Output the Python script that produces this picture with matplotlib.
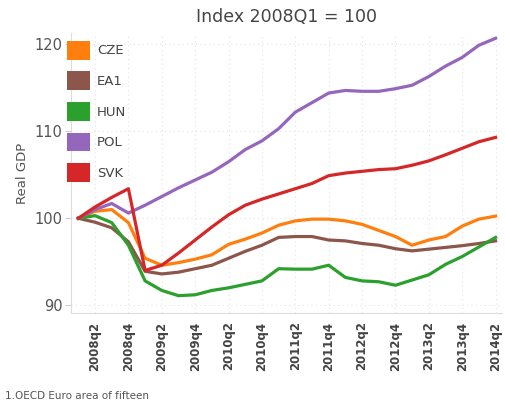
import matplotlib
matplotlib.use("Agg")
import matplotlib.pyplot as plt
from matplotlib.patches import Patch

# quarters 2008q1 .. 2014q2
quarters = [f"{y}q{q}" for y in range(2008, 2015) for q in range(1, 5)][:26]

cze = [100, 100.8, 101.0, 99.5, 95.4, 94.6, 94.9, 95.3, 95.8, 97.0, 97.6, 98.3, 99.2,
       99.7, 99.9, 99.9, 99.7, 99.3, 98.6, 97.9, 96.9, 97.5, 97.9, 99.1, 99.9, 100.25]
ea1 = [100, 99.55, 98.9, 97.3, 93.9, 93.6, 93.8, 94.2, 94.6, 95.4, 96.2, 96.9, 97.8,
       97.9, 97.9, 97.5, 97.4, 97.1, 96.9, 96.5, 96.25, 96.45, 96.65, 96.85, 97.1, 97.4]
hun = [100, 100.3, 99.5, 96.9, 92.8, 91.7, 91.1, 91.2, 91.7, 92.0, 92.4, 92.8, 94.2,
       94.15, 94.15, 94.6, 93.2, 92.8, 92.7, 92.3, 92.9, 93.5, 94.7, 95.6, 96.7, 97.8]
pol = [100, 101.0, 101.7, 100.6, 101.5, 102.5, 103.5, 104.4, 105.3, 106.5, 107.9, 108.9, 110.3,
       112.2, 113.3, 114.4, 114.7, 114.6, 114.6, 114.9, 115.3, 116.3, 117.5, 118.5, 119.9, 120.7]
svk = [100, 101.3, 102.4, 103.4, 94.0, 94.6, 96.0, 97.5, 99.0, 100.4, 101.5, 102.2, 102.8,
       103.4, 104.0, 104.9, 105.2, 105.4, 105.6, 105.7, 106.1, 106.6, 107.3, 108.05, 108.8, 109.3]

series = [("CZE", cze, "#ff7f0e"), ("EA1", ea1, "#8c564b"), ("HUN", hun, "#2ca02c"),
          ("POL", pol, "#9467bd"), ("SVK", svk, "#d62728")]

fig = plt.figure(figsize=(5.05, 4.05), dpi=100)
ax = fig.add_axes([0.1406, 0.227, 0.853, 0.6914])

x = list(range(len(quarters)))
for name, vals, col in series:
    ax.plot(x, vals, color=col, lw=2.3, solid_joinstyle="round", zorder=3)

ax.set_xlim(-0.44, 25.37)
ax.set_ylim(89.1, 121.3)

tick_idx = list(range(1, len(quarters), 2))
ax.set_xticks(tick_idx)
ax.set_xticklabels([quarters[i] for i in tick_idx], rotation=90, fontsize=8.5,
                   fontweight="bold", color="#444444")
ax.set_yticks([90, 100, 110, 120])
ax.set_yticklabels(["90", "100", "110", "120"], fontsize=10.5, color="#555555")
ax.tick_params(axis="x", length=0, pad=6)
ax.tick_params(axis="y", length=4, color="#cccccc", pad=2)

ax.grid(True, color="#e2e2e2", linestyle=(0, (1, 3)), lw=0.8)
for s in ["top", "right"]:
    ax.spines[s].set_visible(False)
for s in ["left", "bottom"]:
    ax.spines[s].set_color("#dddddd")

ax.set_ylabel("Real GDP", fontsize=9.5, color="#555555", labelpad=4)
ax.set_title("Index 2008Q1 = 100", fontsize=12.5, color="#444444", pad=8)

handles = [Patch(facecolor=c, edgecolor="none") for _, _, c in series]
leg = ax.legend(handles, [n for n, _, _ in series], loc="upper left",
                bbox_to_anchor=(-0.03, 1.005), frameon=False, fontsize=9.5,
                handlelength=1.75, handleheight=1.8, labelspacing=0.9,
                handletextpad=0.5, borderaxespad=0.3)
for t in leg.get_texts():
    t.set_color("#444444")

fig.text(0.01, 0.015, "1.OECD Euro area of fifteen", fontsize=7.5, color="#555555")

fig.savefig("out.png", dpi=100)
